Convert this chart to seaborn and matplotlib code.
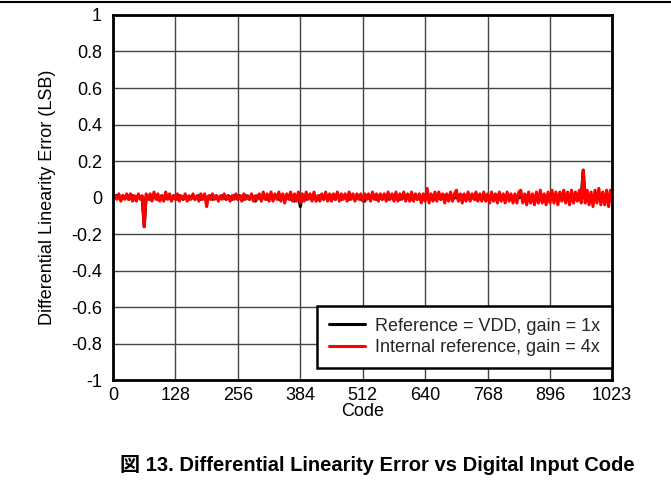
import numpy as np
import pandas as pd
import matplotlib
matplotlib.use("Agg")
import matplotlib.pyplot as plt
import seaborn as sns

# codigos muestreados cada 4 (mas el ultimo codigo 1023)
codigos = list(range(0, 1024, 4)) + [1023]

# DNL en centesimas de LSB
dnl_rojo_cent = [
    0, 1, -1, 2, -2, 1, -1, 2, -1, 2, -2, 1, -2, 2, -1, 1,
    -16, 2, -1, 2, -2, 3, -1, 2, -2, 1, -2, 3, -1, 2, -2, 1,
    -1, 2, -2, 1, -1, 2, -2, 1, -1, 2, -1, 1, -2, 2, -1, 2,
    -5, 1, -1, 2, -1, 1, -2, 1, -1, 2, -1, 1, -2, 1, -1, 2,
    -1, 1, -2, 2, -1, 1, -1, 2, -2, 1, -1, 2, -2, 3, -1, 2,
    -2, 3, -2, 2, -1, 3, -2, 2, -3, 2, -1, 3, -2, 2, -2, 3,
    -3, 2, -2, 3, -1, 2, -2, 3, -2, 1, -2, 2, -1, 3, -2, 2,
    -2, 2, -1, 3, -2, 2, -1, 2, -2, 3, -1, 2, -2, 2, -1, 2,
    -2, 2, -1, 2, -2, 3, -1, 2, -2, 2, -1, 2, -2, 3, -1, 2,
    -2, 3, -2, 2, -1, 3, -2, 2, -2, 3, -2, 2, -1, 2, -3, 2,
    -2, 5, -3, 2, -2, 3, -2, 3, -1, 2, -3, 2, -2, 3, -2, 2,
    4, -2, 2, -3, 2, -2, 3, -2, 2, -1, 3, -2, 2, -2, 3, -2,
    2, -3, 3, -2, 2, -3, 3, -2, 2, -3, 3, -2, 2, -3, 2, -3,
    3, 4, -3, 2, -4, 3, -3, 2, -4, 3, -3, 4, -3, 2, -4, 3,
    -3, 4, -3, 3, -4, 3, -2, 4, -3, 3, -4, 4, -3, 3, -2, 4,
    -3, 15, -3, 4, -4, 3, -5, 4, -3, 5, -4, 3, -4, 4, -5, 4,
    -2,
]

dnl_negro_cent = [
    0, 1, 1, 0, -1, 1, 0, 1, -1, 0, 1, -1, 0, 1, 0, -1,
    -16, 1, 0, -1, 1, 0, 1, -1, 0, 1, -1, 0, 1, 0, -1, 1,
    0, -1, 1, 0, -1, 1, 0, -1, 0, 1, -1, 0, 1, -1, 0, 1,
    -2, 0, 1, -1, 0, 1, -1, 0, 1, 0, -1, 1, 0, -1, 1, 0,
    -1, 1, 0, -1, 1, 0, -1, 1, 0, -2, 1, 0, -1, 1, 0, -1,
    1, 0, -1, 1, 0, -1, 1, 0, -1, 1, 0, -1, 1, -2, 0, 1,
    -5, 1, 0, -1, 1, 0, -1, 1, 0, -1, 1, 0, -1, 1, 0, -1,
    1, 0, -1, 1, 0, -1, 1, 0, 1, -1, 0, 1, -1, 0, 1, -1,
    0, -2, 1, 0, -1, 1, 0, -1, 1, 0, -1, 1, 0, -1, 1, 0,
    -1, 1, 0, -1, 1, 0, -1, 1, 0, -1, 1, 0, -1, 1, 0, -1,
    1, 2, -1, 0, 1, -1, 0, 1, -1, 0, 1, -1, 0, 1, -1, 0,
    2, -1, 0, 1, -1, 0, 1, -1, 0, 1, -1, 0, 1, -1, 0, 1,
    -1, 0, 1, -1, 0, 1, -1, 0, 1, -1, 0, 1, -1, 0, 1, -1,
    0, 2, -1, 0, 1, -1, 0, 1, -1, 0, 1, -1, 0, 1, -1, 0,
    1, -1, 0, 1, -1, 0, 1, -1, 0, 1, -1, 0, -2, 1, 0, -1,
    1, 15, -1, 0, 1, -1, 0, 1, -1, 0, 1, -1, 0, 1, -1, 0,
    0,
]

etiquetas_x = [0, 128, 256, 384, 512, 640, 768, 896, 1023]
etiquetas_y = [-1, -0.8, -0.6, -0.4, -0.2, 0, 0.2, 0.4, 0.6, 0.8, 1]
serie_negro = "Reference = VDD, gain = 1x"
serie_rojo = "Internal reference, gain = 4x"

df = pd.DataFrame({
    "Code": codigos * 2,
    "DNL": [v / 100 for v in dnl_negro_cent] + [v / 100 for v in dnl_rojo_cent],
    "Serie": [serie_negro] * len(codigos) + [serie_rojo] * len(codigos),
})

sns.set_theme(style="white")
plt.rcParams['font.family'] = ['Liberation Sans', 'Noto Sans CJK JP', 'DejaVu Sans']

fig = plt.figure(figsize=(6.71, 4.95), dpi=100)
ax = fig.add_axes([0.1684, 0.2323, 0.7437, 0.7374])

sns.lineplot(data=df, x="Code", y="DNL", hue="Serie",
             palette={serie_negro: "black", serie_rojo: "#ff0000"},
             linewidth=2.2, ax=ax, estimator=None, sort=False)

ax.set_xlim(0, 1023)
ax.set_ylim(-1, 1)
ax.set_xticks(etiquetas_x)
ax.set_xticklabels([str(v) for v in etiquetas_x])
ax.set_yticks(etiquetas_y)
ax.set_yticklabels(["%g" % v for v in etiquetas_y])
ax.tick_params(axis="both", labelsize=13, colors="black", length=0)
ax.tick_params(axis="y", pad=8)
ax.tick_params(axis="x", pad=5)
ax.grid(True, color="#444444", linewidth=1)
ax.set_axisbelow(True)
for s in ax.spines.values():
    s.set_color("black")
    s.set_linewidth(2)

ax.set_xlabel("Code", fontsize=13, color="black")
ax.xaxis.set_label_coords(0.5, -0.064)
ax.set_ylabel("Differential Linearity Error (LSB)", fontsize=13, color="black", va="center")
ax.yaxis.set_label_coords(-0.132, 0.5)

leg = ax.legend(loc="lower right", bbox_to_anchor=(1.0, 0.033), fontsize=13,
                frameon=True, fancybox=False, framealpha=1, edgecolor="black",
                borderaxespad=0.0, handlelength=2.0, handletextpad=0.55,
                borderpad=0.65, labelspacing=0.25)
leg.get_frame().set_linewidth(1.8)
leg.set_title(None)

# linea superior de la pagina
fig.add_artist(plt.Line2D([0, 1], [0.996, 0.996], color="black", linewidth=1.5,
                          transform=fig.transFigure))

fig.text(0.563, 0.06, "図 13. Differential Linearity Error vs Digital Input Code",
         ha="center", va="center", fontsize=14.5, fontweight="bold", color="black")

fig.savefig("out.png", dpi=100)
